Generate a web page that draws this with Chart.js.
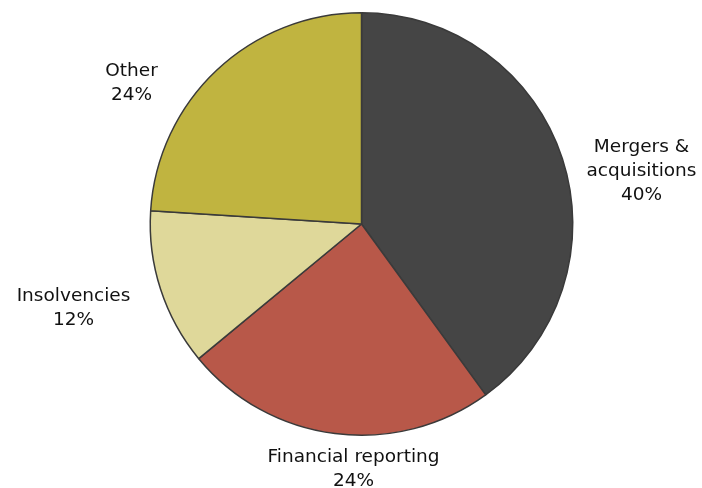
<!DOCTYPE html>
<html>
<head>
<meta charset="utf-8">
<script src="https://cdn.jsdelivr.net/npm/chart.js@4"></script>
<style>
  html, body { margin: 0; padding: 0; background: #fff; }
  #wrap { width: 702px; height: 488px; }
</style>
</head>
<body>
<div id="wrap"><canvas id="pieChart" width="702" height="488"></canvas></div>
<script>
// data
const categories = ['Mergers & acquisitions', 'Financial reporting', 'Insolvencies', 'Other'];
const shares = [40, 24, 12, 24];
const labelLines = [['Mergers &', 'acquisitions', '40%'], ['Financial reporting', '24%'], ['Insolvencies', '12%'], ['Other', '24%']];
const sliceColors = ['#454545', '#b85849', '#dfd89a', '#c0b440'];

// where each outside label sits, relative to the pie centre
const labelOffsets = [[280, -53], [-8, 245], [-288, 84], [-230, -141]];

const outsideLabels = {
  id: 'outsideLabels',
  afterDraw(chart) {
    const ctx = chart.ctx;
    const arc = chart.getDatasetMeta(0).data[0];
    ctx.save();
    ctx.font = '18.5px "DejaVu Sans", Verdana, sans-serif';
    ctx.fillStyle = '#111';
    ctx.textAlign = 'center';
    ctx.textBaseline = 'middle';
    labelLines.forEach((lines, i) => {
      const x = arc.x + labelOffsets[i][0];
      const y0 = arc.y + labelOffsets[i][1] - (lines.length - 1) * 12;
      lines.forEach((t, j) => ctx.fillText(t, x, y0 + j * 24));
    });
    ctx.restore();
  }
};

new Chart(document.getElementById('pieChart'), {
  type: 'pie',
  data: {
    labels: categories,
    datasets: [{
      data: shares,
      backgroundColor: sliceColors,
      borderColor: '#3a3a3a',
      borderWidth: 1.5
    }]
  },
  options: {
    responsive: false,
    animation: false,
    layout: { padding: { top: 12, bottom: 52, left: 149, right: 128 } },
    plugins: {
      legend: { display: false },
      tooltip: { enabled: false }
    }
  },
  plugins: [outsideLabels]
});
</script>
</body>
</html>
